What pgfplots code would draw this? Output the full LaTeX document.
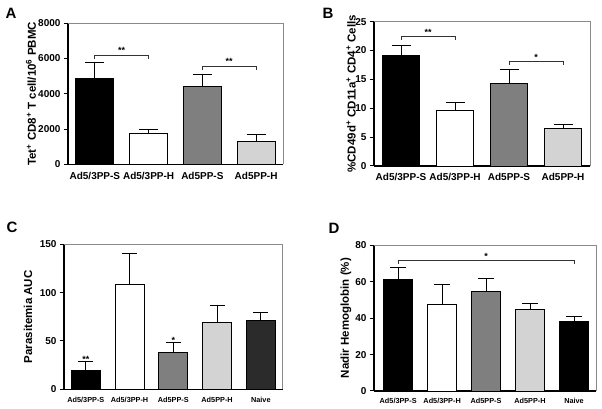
\documentclass[border=0pt]{standalone}
\usepackage{pgfplots}
\pgfplotsset{compat=1.18}
\usepackage{fontspec}
\setmainfont{Liberation Sans}
\definecolor{midgray}{HTML}{7F7F7F}
\definecolor{lightgray}{HTML}{D3D3D3}
\definecolor{darkbar}{HTML}{2B2B2B}
\definecolor{framegray}{HTML}{8A8A8A}
\tikzset{
  brk/.style={line width=0.8pt, black!80},
  star/.style={font=\bfseries\fontsize{9}{9}\selectfont, inner sep=0pt, anchor=south},
}
\begin{document}
\begin{tikzpicture}
\useasboundingbox (0pt,0pt) rectangle (602pt,409pt);
\pgfplotsset{
  prism/.style={
    scale only axis, clip=false,
    axis x line*=bottom, axis y line*=left,
    axis line style={line width=1.3pt, black},
    tick align=outside, major tick length=4pt,
    ytick style={line width=1pt, black},
    xtick style={draw=none},
    ymin=0,
    scaled y ticks=false,
    /pgf/number format/assume math mode=true,
    /pgf/number format/1000 sep={},
    y tick label style={font=\bfseries\fontsize{10}{11}\selectfont},
    ylabel style={font=\bfseries\fontsize{11.5}{12}\selectfont, anchor=center},
    ybar, bar shift=0pt,
    error bars/y dir=plus, error bars/y explicit,
    error bars/error bar style={line width=1pt, black},
    every axis plot/.append style={draw=black, line width=0.9pt},
    after end axis/.code={
      \draw[framegray, line width=0.9pt] (rel axis cs:0,1) -- (rel axis cs:1,1) -- (rel axis cs:1,0);
    },
  },
}
% ---------------- Panel A ----------------
\begin{axis}[prism, at={(68pt,244.7pt)}, anchor=south west, width=215pt, height=141pt,
  xmin=-0.5, xmax=3.5, ymax=8000, ytick={0,2000,4000,6000,8000},
  yticklabels={0,2000,4000,6000,8000},
  xtick={0,1,2,3}, xticklabels={Ad5/3PP-S,Ad5/3PP-H,Ad5PP-S,Ad5PP-H},
  x tick label style={font=\bfseries\fontsize{10}{11}\selectfont},
  bar width=38pt,
  error bars/error mark options={black, line width=1pt, mark size=9.5pt, rotate=90},
  ylabel={Tet\textsuperscript{+} CD8\textsuperscript{+} T cell/10\textsuperscript{6} PBMC},
  ylabel style={at={(axis description cs:-0.172,0.5)}}]
\addplot[fill=black] coordinates {(0,4850) +- (0,900)};
\addplot[fill=white] coordinates {(1,1750) +- (0,230)};
\addplot[fill=midgray] coordinates {(2,4430) +- (0,670)};
\addplot[fill=lightgray] coordinates {(3,1300) +- (0,400)};
\draw[brk] (axis cs:0,5980) -- (axis cs:0,6200) -- (axis cs:1,6200) -- (axis cs:1,5980);
\node[star] at (axis cs:0.5,6250) {**};
\draw[brk] (axis cs:2,5360) -- (axis cs:2,5580) -- (axis cs:3,5580) -- (axis cs:3,5360);
\node[star] at (axis cs:2.5,5630) {**};
\end{axis}
% ---------------- Panel B ----------------
\begin{axis}[prism, at={(374pt,243pt)}, anchor=south west, width=216pt, height=144.3pt,
  xmin=-0.5, xmax=3.5, ymax=25, ytick={0,5,10,15,20,25},
  yticklabels={0,5,10,15,20,25},
  xtick={0,1,2,3}, xticklabels={Ad5/3PP-S,Ad5/3PP-H,Ad5PP-S,Ad5PP-H},
  x tick label style={font=\bfseries\fontsize{10}{11}\selectfont},
  bar width=37pt,
  error bars/error mark options={black, line width=1pt, mark size=9.5pt, rotate=90},
  ylabel={\%CD49d\textsuperscript{+} CD11a\textsuperscript{+} CD4\textsuperscript{+} Cells},
  ylabel style={at={(axis description cs:-0.106,0.5)}}]
\addplot[fill=black] coordinates {(0,19.1) +- (0,1.8)};
\addplot[fill=white] coordinates {(1,9.7) +- (0,1.3)};
\addplot[fill=midgray] coordinates {(2,14.3) +- (0,2.4)};
\addplot[fill=lightgray] coordinates {(3,6.5) +- (0,0.7)};
\draw[brk] (axis cs:0,21.8) -- (axis cs:0,22.4) -- (axis cs:1,22.4) -- (axis cs:1,21.8);
\node[star] at (axis cs:0.5,22.55) {**};
\draw[brk] (axis cs:2,17.5) -- (axis cs:2,18.1) -- (axis cs:3,18.1) -- (axis cs:3,17.5);
\node[star] at (axis cs:2.5,18.25) {*};
\end{axis}
% ---------------- Panel C ----------------
\begin{axis}[prism, at={(64pt,19.7pt)}, anchor=south west, width=218.7pt, height=145pt,
  xmin=-0.5, xmax=4.5, ymax=150, ytick={0,50,100,150},
  yticklabels={0,50,100,150},
  xtick={0,1,2,3,4}, xticklabels={Ad5/3PP-S,Ad5/3PP-H,Ad5PP-S,Ad5PP-H,Naive},
  x tick label style={font=\bfseries\fontsize{7.3}{8}\selectfont},
  bar width=29pt,
  error bars/error mark options={black, line width=1pt, mark size=7.5pt, rotate=90},
  ylabel={Parasitemia AUC},
  ylabel style={at={(axis description cs:-0.165,0.5)}}]
\addplot[fill=black] coordinates {(0,19.3) +- (0,9.7)};
\addplot[fill=white] coordinates {(1,108.6) +- (0,32)};
\addplot[fill=midgray] coordinates {(2,38.3) +- (0,10.3)};
\addplot[fill=lightgray] coordinates {(3,69.3) +- (0,16.9)};
\addplot[fill=darkbar] coordinates {(4,71.7) +- (0,7.9)};
\node[star] at (axis cs:0,27.5) {**};
\node[star] at (axis cs:2,47) {*};
\end{axis}
% ---------------- Panel D ----------------
\begin{axis}[prism, at={(374pt,18pt)}, anchor=south west, width=222pt, height=145.7pt,
  xmin=-0.55, xmax=4.5, ymax=80, ytick={0,20,40,60,80},
  yticklabels={0,20,40,60,80},
  xtick={0,1,2,3,4}, xticklabels={Ad5/3PP-S,Ad5/3PP-H,Ad5PP-S,Ad5PP-H,Naive},
  x tick label style={font=\bfseries\fontsize{7.3}{8}\selectfont},
  bar width=29pt,
  error bars/error mark options={black, line width=1pt, mark size=8pt, rotate=90},
  ylabel={Nadir Hemoglobin (\%)},
  ylabel style={at={(axis description cs:-0.126,0.5)}}]
\addplot[fill=black] coordinates {(0,61) +- (0,7)};
\addplot[fill=white] coordinates {(1,47.6) +- (0,10.8)};
\addplot[fill=midgray] coordinates {(2,54.7) +- (0,7.2)};
\addplot[fill=lightgray] coordinates {(3,44.6) +- (0,3.3)};
\addplot[fill=black] coordinates {(4,38.3) +- (0,2.7)};
\draw[brk] (axis cs:0,70) -- (axis cs:0,71.9) -- (axis cs:4,71.9) -- (axis cs:4,70);
\node[star] at (axis cs:2,72.3) {*};
\end{axis}
% panel letters
\node[font=\bfseries\fontsize{15}{15}\selectfont] at (11pt,396pt) {A};
\node[font=\bfseries\fontsize{15}{15}\selectfont] at (328pt,396pt) {B};
\node[font=\bfseries\fontsize{15}{15}\selectfont] at (12pt,182pt) {C};
\node[font=\bfseries\fontsize{15}{15}\selectfont] at (334pt,181pt) {D};
\end{tikzpicture}
\end{document}
